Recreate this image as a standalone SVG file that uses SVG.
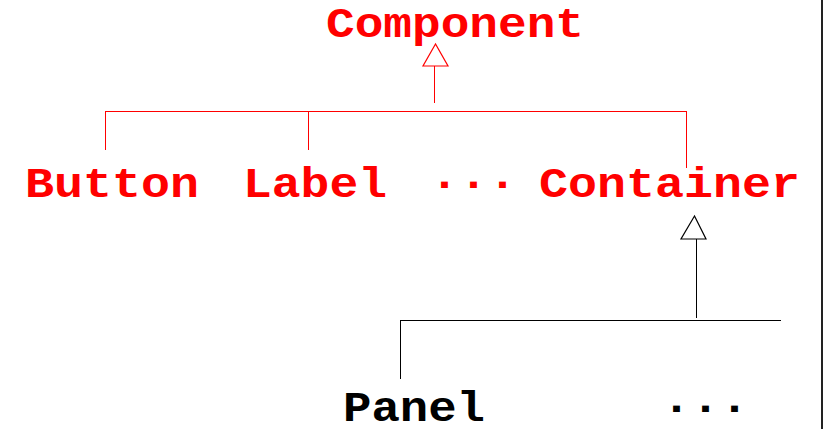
<svg xmlns="http://www.w3.org/2000/svg" width="823" height="429" viewBox="0 0 823 429">
  <style>
    .lbl { font-family: "Liberation Mono", "Courier New", monospace; font-weight: bold; font-size: 42px; }
    .red { fill: #ff0000; }
    .blk { fill: #000000; }
    .lr { stroke: #ff0000; stroke-width: 1; fill: none; }
    .lk { stroke: #000000; stroke-width: 1; fill: none; }
    .hr { stroke: #ff0000; stroke-width: 1.2; fill: #ffffff; }
    .hk { stroke: #000000; stroke-width: 1.2; fill: #ffffff; }
  </style>
  <rect width="823" height="429" fill="#ffffff"/>

  <g id="connectors">
    <!-- Component generalization -->
    <line class="lr" x1="434.5" y1="66" x2="434.5" y2="103"/>
    <polygon class="hr" points="435.5,44 423,66 448,66"/>
    <line class="lr" x1="105" y1="111.5" x2="686" y2="111.5"/>
    <line class="lr" x1="105.5" y1="111" x2="105.5" y2="150"/>
    <line class="lr" x1="308.5" y1="111" x2="308.5" y2="150"/>
    <line class="lr" x1="686.5" y1="111" x2="686.5" y2="168"/>
    <!-- Container generalization -->
    <line class="lk" x1="696.5" y1="239" x2="696.5" y2="318"/>
    <polygon class="hk" points="694.5,216 681,239 706,239"/>
    <line class="lk" x1="400" y1="320.5" x2="781" y2="320.5"/>
    <line class="lk" x1="400.5" y1="320" x2="400.5" y2="379"/>
  </g>

  <g id="component"><text class="lbl red" x="326" y="37" textLength="258" lengthAdjust="spacingAndGlyphs">Component</text></g>
  <g id="button"><text class="lbl red" x="25" y="197" textLength="174" lengthAdjust="spacingAndGlyphs">Button</text></g>
  <g id="label"><text class="lbl red" x="243" y="197" textLength="144" lengthAdjust="spacingAndGlyphs">Label</text></g>
  <g id="more-components"><text class="lbl red" x="430" y="197" textLength="87" lengthAdjust="spacingAndGlyphs">···</text></g>
  <g id="container"><text class="lbl red" x="539" y="197" textLength="261" lengthAdjust="spacingAndGlyphs">Container</text></g>
  <g id="panel"><text class="lbl blk" x="343" y="421" textLength="142" lengthAdjust="spacingAndGlyphs">Panel</text></g>
  <g id="more-containers"><text class="lbl blk" x="662" y="421" textLength="87" lengthAdjust="spacingAndGlyphs">···</text></g>

  <!-- frame edge on the right -->
  <rect x="821" y="0" width="2" height="429" fill="#222222"/>
</svg>
